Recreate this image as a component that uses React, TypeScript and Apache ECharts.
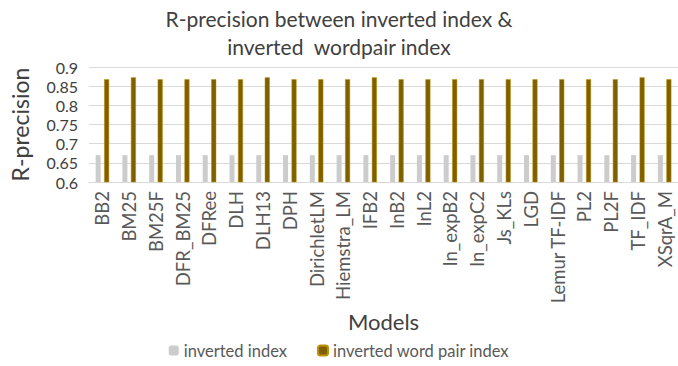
import React, { useEffect, useRef } from "react";
import * as echarts from "echarts";

const models = [
  "BB2", "BM25", "BM25F", "DFR_BM25", "DFRee", "DLH", "DLH13", "DPH",
  "DirichletLM", "Hiemstra_LM", "IFB2", "InB2", "InL2", "In_expB2",
  "In_expC2", "Js_KLs", "LGD", "Lemur TF-IDF", "PL2", "PL2F", "TF_IDF", "XSqrA_M",
];
const invertedIndex = [
  0.67, 0.67, 0.67, 0.67, 0.67, 0.67, 0.67, 0.67, 0.67, 0.67, 0.67,
  0.67, 0.67, 0.67, 0.67, 0.67, 0.67, 0.67, 0.67, 0.67, 0.67, 0.67,
];
const invertedWordPairIndex = [
  0.868, 0.873, 0.868, 0.868, 0.868, 0.868, 0.873, 0.868, 0.868, 0.868, 0.873,
  0.868, 0.868, 0.868, 0.868, 0.868, 0.868, 0.868, 0.868, 0.868, 0.873, 0.868,
];
const seriesNames = ["inverted index", "inverted word pair index"];

const FONT = "Lato, 'Open Sans', sans-serif";

export default function App() {
  const ref = useRef<HTMLDivElement>(null);
  useEffect(() => {
    if (!ref.current) return;
    const chart = echarts.init(ref.current, undefined, { renderer: "svg" });
    chart.setOption({
      animation: false,
      backgroundColor: "#ffffff",
      title: {
        text: "R-precision between inverted index &\ninverted  wordpair index",
        left: "center",
        top: -1,
        textStyle: {
          fontFamily: FONT,
          fontSize: 21,
          fontWeight: "normal",
          color: "#404040",
          lineHeight: 28,
        },
      },
      legend: {
        bottom: 2,
        left: "center",
        itemWidth: 10,
        itemHeight: 10,
        itemGap: 30,
        textStyle: { fontFamily: FONT, fontSize: 16.5, color: "#595959" },
        data: seriesNames,
      },
      grid: { left: 80, right: -7, top: 67, bottom: 184 },
      xAxis: {
        type: "category",
        data: models,
        name: "Models",
        nameLocation: "middle",
        nameGap: 128,
        nameTextStyle: { fontFamily: FONT, fontSize: 22, color: "#404040" },
        axisTick: { show: false },
        axisLine: { lineStyle: { color: "#d9d9d9" } },
        axisLabel: {
          rotate: 90,
          interval: 0,
          margin: 9,
          fontFamily: FONT,
          fontSize: 18.5,
          color: "#595959",
        },
      },
      yAxis: {
        type: "value",
        min: 0.6,
        max: 0.9,
        interval: 0.05,
        name: "R-precision",
        nameLocation: "middle",
        nameGap: 58,
        nameTextStyle: { fontFamily: FONT, fontSize: 23, color: "#404040" },
        axisLabel: {
          fontFamily: FONT,
          fontSize: 16,
          color: "#404040",
          margin: 11,
          formatter: (v: number) => String(Number(v.toFixed(2))),
        },
        splitLine: { lineStyle: { color: "#d9d9d9" } },
      },
      series: [
        {
          name: seriesNames[0],
          type: "bar",
          data: invertedIndex,
          barWidth: 5,
          barGap: "70%",
          itemStyle: { color: "#cccccc" },
        },
        {
          name: seriesNames[1],
          type: "bar",
          data: invertedWordPairIndex,
          barWidth: 5,
          itemStyle: { color: "#7f6000", borderColor: "#bf9000", borderWidth: 0.5 },
        },
      ],
    });
    return () => chart.dispose();
  }, []);
  return <div ref={ref} style={{ width: 678, height: 366, position: "absolute", left: 0, top: 0 }} />;
}
